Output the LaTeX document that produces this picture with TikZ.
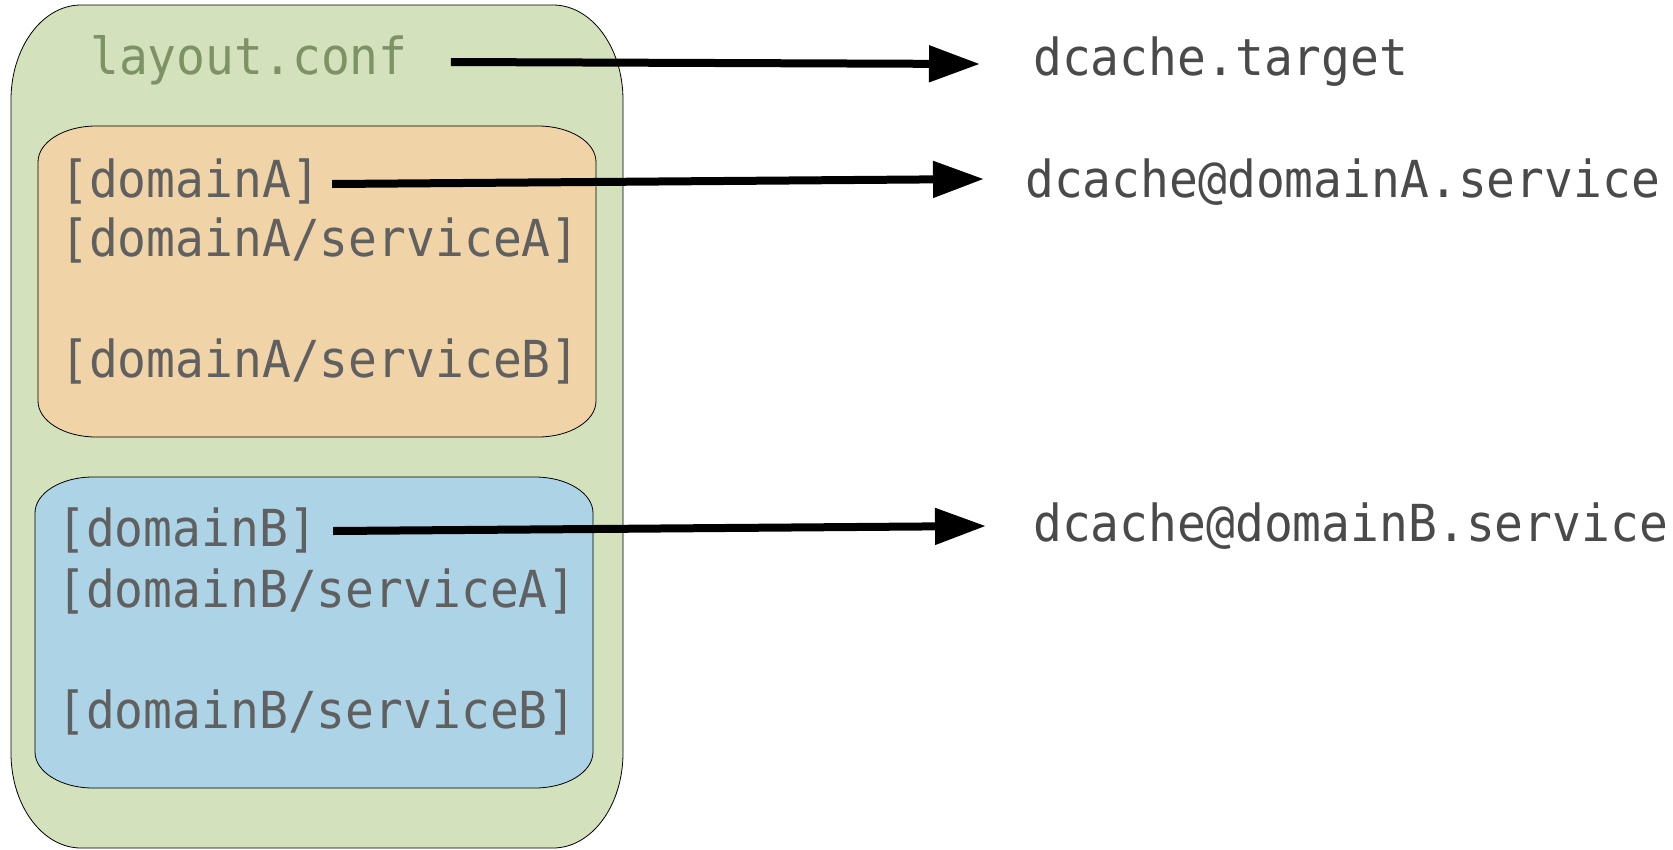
\documentclass[tikz,border=0pt]{standalone}
\usepackage{fontspec}
\usetikzlibrary{arrows.meta}
\newfontfamily\monofam[FakeStretch=0.94]{DejaVu Sans Mono}
\definecolor{gfill}{HTML}{D3E2BC}
\definecolor{ofill}{HTML}{F0D3A6}
\definecolor{bfill}{HTML}{ADD3E7}
\definecolor{boxtxt}{HTML}{606060}
\definecolor{outtxt}{HTML}{4A4A4A}
\definecolor{conftxt}{HTML}{7D9265}
\tikzset{
  txt/.style={inner sep=0pt, anchor=base west, font=\monofam\fontsize{51}{60}\selectfont},
  intxt/.style={txt, text=boxtxt},
  outlbl/.style={txt, text=outtxt},
  boxline/.style={draw=black, line width=0.8pt},
  arr/.style={line width=8pt, -{Triangle[length=51pt,width=35pt]}}
}
\begin{document}
\begin{tikzpicture}[x=1pt,y=-1pt]
\useasboundingbox (0,0) rectangle (1673,849);
% outer green container
\path[boxline, fill=gfill] (11,100) arc[start angle=180,end angle=270,x radius=70,y radius=95]
  -- (553,5) arc[start angle=270,end angle=360,x radius=70,y radius=95]
  -- (623,753) arc[start angle=0,end angle=90,x radius=70,y radius=95]
  -- (81,848) arc[start angle=90,end angle=180,x radius=70,y radius=95] -- cycle;
% orange domain A
\path[boxline, fill=ofill] (38,162) arc[start angle=180,end angle=270,x radius=58,y radius=36]
  -- (538,126) arc[start angle=270,end angle=360,x radius=58,y radius=36]
  -- (596,401) arc[start angle=0,end angle=90,x radius=58,y radius=36]
  -- (96,437) arc[start angle=90,end angle=180,x radius=58,y radius=36] -- cycle;
% blue domain B
\path[boxline, fill=bfill] (35,513) arc[start angle=180,end angle=270,x radius=58,y radius=36]
  -- (535,477) arc[start angle=270,end angle=360,x radius=58,y radius=36]
  -- (593,752) arc[start angle=0,end angle=90,x radius=58,y radius=36]
  -- (93,788) arc[start angle=90,end angle=180,x radius=58,y radius=36] -- cycle;
% texts
\node[txt, text=conftxt] (conf) at (90,74) {layout.conf};
\node[intxt] (dA) at (60,197) {[domainA]};
\node[intxt] (dAsA) at (60,256) {[domainA/serviceA]};
\node[intxt] (dAsB) at (60,377) {[domainA/serviceB]};
\node[intxt] (dB) at (57,546) {[domainB]};
\node[intxt] (dBsA) at (57,607) {[domainB/serviceA]};
\node[intxt] (dBsB) at (57,728) {[domainB/serviceB]};
\node[outlbl] (tgt) at (1033,75) {dcache.target};
\node[outlbl] (svA) at (1025,197) {dcache@domainA.service};
\node[outlbl] (svB) at (1033,541) {dcache@domainB.service};
% arrows
\draw[arr] ([xshift=43pt,yshift=12pt]conf.base east) -- ([xshift=-53pt,yshift=11pt]tgt.base west);
\draw[arr] ([xshift=12pt,yshift=13pt]dA.base east) -- ([xshift=-41pt,yshift=18pt]svA.base west);
\draw[arr] ([xshift=16pt,yshift=15pt]dB.base east) -- ([xshift=-47pt,yshift=15pt]svB.base west);
\end{tikzpicture}
\end{document}
